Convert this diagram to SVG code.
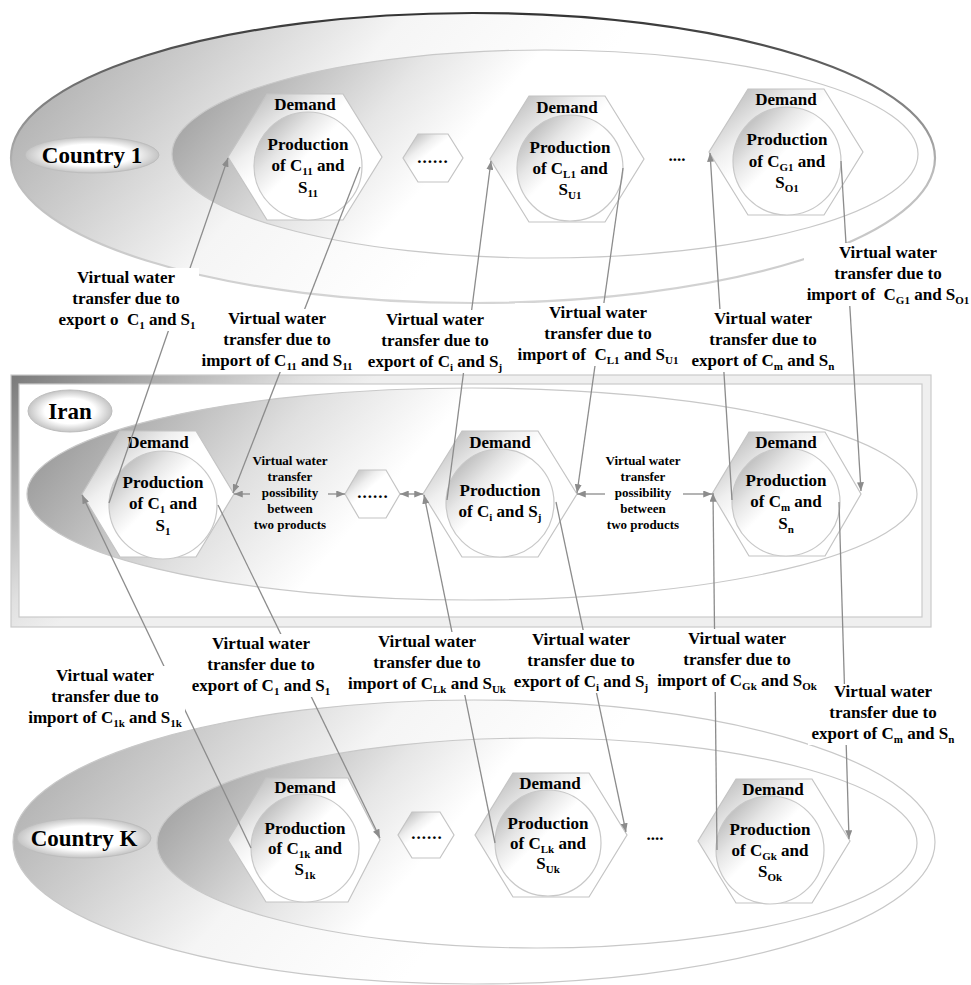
<svg xmlns="http://www.w3.org/2000/svg" width="971" height="985" viewBox="0 0 971 985">
<style>
.t{font-family:'Liberation Serif','Times New Roman',serif;font-weight:bold;font-size:17px;text-anchor:middle;fill:#000}
.s{font-size:11px}
.sm{font-size:13px}
.big{font-size:23px}
.dots{letter-spacing:1px}
.conn{stroke:#8c8c8c;stroke-width:1.3;fill:none}
.arr{marker-end:url(#ah)}
.both{marker-start:url(#ah);marker-end:url(#ah)}
.hex{fill:url(#gHex);stroke:#c4c4c4;stroke-width:1.2}
.circ{fill:url(#gCirc);stroke:#c8c8c8;stroke-width:1.2}
.lbg{fill:#fff}
.lab{fill:url(#gLab);stroke:#bdbdbd;stroke-width:1}
</style>
<defs>
<marker id="ah" viewBox="0 0 10 8" refX="10" refY="4" markerWidth="9" markerHeight="7" markerUnits="userSpaceOnUse" orient="auto-start-reverse"><path d="M0,0 L10,4 L0,8 Z" fill="#8c8c8c"/></marker>
<linearGradient id="gHex" x1="0" y1="0" x2="1" y2="1"><stop offset="0" stop-color="#a8a8a8"/><stop offset="0.3" stop-color="#efefef"/><stop offset="0.42" stop-color="#fff"/><stop offset="1" stop-color="#fff"/></linearGradient>
<linearGradient id="gCirc" x1="0" y1="0" x2="1" y2="1"><stop offset="0" stop-color="#9e9e9e"/><stop offset="0.3" stop-color="#e6e6e6"/><stop offset="0.45" stop-color="#fff"/><stop offset="1" stop-color="#fff"/></linearGradient>
<radialGradient id="gLab" cx="0.5" cy="0.5" r="0.5"><stop offset="0" stop-color="#fff"/><stop offset="0.6" stop-color="#fff"/><stop offset="1" stop-color="#c4c4c4"/></radialGradient>
<linearGradient id="gOut1" gradientUnits="userSpaceOnUse" x1="12" y1="60" x2="352" y2="354"><stop offset="0" stop-color="#a8a8a8"/><stop offset="0.3" stop-color="#cdcdcd"/><stop offset="0.6" stop-color="#f5f5f5"/><stop offset="1" stop-color="#fff"/></linearGradient>
<linearGradient id="gOut1s" gradientUnits="userSpaceOnUse" x1="0" y1="13" x2="0" y2="303"><stop offset="0" stop-color="#333"/><stop offset="0.35" stop-color="#8a8a8a"/><stop offset="0.55" stop-color="#bbb"/><stop offset="1" stop-color="#d5d5d5"/></linearGradient>
<linearGradient id="gIn1" gradientUnits="userSpaceOnUse" x1="172" y1="100" x2="421" y2="316"><stop offset="0" stop-color="#9c9c9c"/><stop offset="0.5" stop-color="#e6e6e6"/><stop offset="0.75" stop-color="#fff"/><stop offset="1" stop-color="#fff"/></linearGradient>
<linearGradient id="gIran" gradientUnits="userSpaceOnUse" x1="28" y1="440" x2="315" y2="688"><stop offset="0" stop-color="#959595"/><stop offset="0.5" stop-color="#e0e0e0"/><stop offset="0.8" stop-color="#fff"/><stop offset="1" stop-color="#fff"/></linearGradient>
<linearGradient id="gFrame" gradientUnits="userSpaceOnUse" x1="11" y1="375" x2="149" y2="553"><stop offset="0" stop-color="#7a7a7a"/><stop offset="0.8" stop-color="#e0e0e0"/><stop offset="1" stop-color="#efefef"/></linearGradient>
<linearGradient id="gOutK" gradientUnits="userSpaceOnUse" x1="13" y1="745" x2="353" y2="1039"><stop offset="0" stop-color="#a8a8a8"/><stop offset="0.3" stop-color="#cdcdcd"/><stop offset="0.6" stop-color="#f5f5f5"/><stop offset="1" stop-color="#fff"/></linearGradient>
<linearGradient id="gInK" gradientUnits="userSpaceOnUse" x1="157" y1="790" x2="406" y2="1006"><stop offset="0" stop-color="#9c9c9c"/><stop offset="0.5" stop-color="#e6e6e6"/><stop offset="0.75" stop-color="#fff"/><stop offset="1" stop-color="#fff"/></linearGradient>
</defs>
<rect width="971" height="985" fill="#fff"/>

<!-- Country 1 region -->
<g id="country1">
<ellipse cx="473" cy="158" rx="462" ry="145" fill="url(#gOut1)" stroke="url(#gOut1s)" stroke-width="2.2"/>
<ellipse cx="545" cy="154" rx="373" ry="104" fill="url(#gIn1)" stroke="#c8c8c8" stroke-width="1.2"/>
<ellipse class="lab" cx="92" cy="155" rx="67" ry="18"/>
<text class="t big" x="92" y="163">Country 1</text>
</g>

<!-- Iran region -->
<g id="iran">
<path d="M11,375 H931 V627 H11 Z M19,384 V617 H922 V384 Z" fill="url(#gFrame)" fill-rule="evenodd"/>
<rect x="11" y="375" width="920" height="252" fill="none" stroke="#cacaca" stroke-width="1.2"/>
<rect x="19" y="384" width="903" height="233" fill="#fff" stroke="#cacaca" stroke-width="1.2"/>
<ellipse cx="472" cy="494" rx="445" ry="106" fill="url(#gIran)" stroke="#c8c8c8" stroke-width="1.2"/>
<ellipse class="lab" cx="70" cy="411" rx="42" ry="21"/>
<text class="t big" x="70" y="419">Iran</text>
</g>

<!-- Country K region -->
<g id="countryK">
<ellipse cx="474" cy="842" rx="461" ry="142" fill="url(#gOutK)" stroke="#c8c8c8" stroke-width="1.2"/>
<ellipse cx="537" cy="843" rx="380" ry="105" fill="url(#gInK)" stroke="#c8c8c8" stroke-width="1.2"/>
<ellipse class="lab" cx="84" cy="838" rx="67" ry="20"/>
<text class="t big" x="84" y="846">Country K</text>
</g>

<!-- Country 1 nodes -->
<g id="n-c1-1">
<polygon class="hex" points="267,94 343,94 382,157 343,220 267,220 228,157"/>
<circle class="circ" cx="308" cy="166" r="54"/>
<text class="t" x="305" y="110">Demand</text>
<text class="t" x="308" y="150">Production</text>
<text class="t" x="308" y="171">of C<tspan class="s" dy="4">11</tspan><tspan dy="-4"> and</tspan></text>
<text class="t" x="308" y="193">S<tspan class="s" dy="4">11</tspan></text>
</g>
<g id="n-c1-dots">
<polygon class="hex" points="418,134 448,134 463,158 448,182 418,182 403,158"/>
<text class="t dots" x="433" y="163">......</text>
</g>
<g id="n-c1-2">
<polygon class="hex" points="529,96 605,96 644,159 605,222 529,222 490,159"/>
<circle class="circ" cx="570" cy="168" r="53"/>
<text class="t" x="567" y="113">Demand</text>
<text class="t" x="570" y="153">Production</text>
<text class="t" x="570" y="174">of C<tspan class="s" dy="4">L1</tspan><tspan dy="-4"> and</tspan></text>
<text class="t" x="570" y="195">S<tspan class="s" dy="4">U1</tspan></text>
</g>
<g id="n-c1-dots2">
<text class="t" x="677" y="161">....</text>
</g>
<g id="n-c1-3">
<polygon class="hex" points="748,89 824,89 863,152 824,215 748,215 709,152"/>
<circle class="circ" cx="787" cy="161" r="54"/>
<text class="t" x="786" y="105">Demand</text>
<text class="t" x="787" y="145">Production</text>
<text class="t" x="787" y="167">of C<tspan class="s" dy="4">G1</tspan><tspan dy="-4"> and</tspan></text>
<text class="t" x="787" y="188">S<tspan class="s" dy="4">O1</tspan></text>
</g>

<!-- Iran nodes -->
<g id="n-ir-1">
<polygon class="hex" points="120,431 196,431 234,494 196,557 120,557 82,494"/>
<circle class="circ" cx="163" cy="505" r="54"/>
<text class="t" x="158" y="448">Demand</text>
<text class="t" x="163" y="488">Production</text>
<text class="t" x="163" y="509">of C<tspan class="s" dy="4">1</tspan><tspan dy="-4"> and</tspan></text>
<text class="t" x="163" y="531">S<tspan class="s" dy="4">1</tspan></text>
</g>
<g id="n-ir-dots">
<polygon class="hex" points="359,470 386,470 400,494 386,518 359,518 345,494"/>
<text class="t dots" x="373" y="498">......</text>
</g>
<g id="n-ir-2">
<polygon class="hex" points="462,431 538,431 577,494 538,557 462,557 423,494"/>
<circle class="circ" cx="500" cy="503" r="54"/>
<text class="t" x="500" y="448">Demand</text>
<text class="t" x="500" y="496">Production</text>
<text class="t" x="500" y="517">of C<tspan class="s" dy="4">i</tspan><tspan dy="-4"> and S</tspan><tspan class="s" dy="4">j</tspan></text>
</g>
<g id="n-ir-3">
<polygon class="hex" points="749,432 825,432 861,494 825,556 749,556 712,494"/>
<circle class="circ" cx="786" cy="502" r="54"/>
<text class="t" x="786" y="448">Demand</text>
<text class="t" x="786" y="486">Production</text>
<text class="t" x="786" y="507">of C<tspan class="s" dy="4">m</tspan><tspan dy="-4"> and</tspan></text>
<text class="t" x="786" y="529">S<tspan class="s" dy="4">n</tspan></text>
</g>

<!-- Country K nodes -->
<g id="n-ck-1">
<polygon class="hex" points="266,778 348,778 380,840 348,902 266,902 228,840"/>
<circle class="circ" cx="305" cy="848" r="54"/>
<text class="t" x="305" y="793">Demand</text>
<text class="t" x="305" y="834">Production</text>
<text class="t" x="305" y="854">of C<tspan class="s" dy="4">1k</tspan><tspan dy="-4"> and</tspan></text>
<text class="t" x="305" y="875">S<tspan class="s" dy="4">1k</tspan></text>
</g>
<g id="n-ck-dots">
<polygon class="hex" points="412,812 440,812 454,835 440,858 412,858 398,835"/>
<text class="t dots" x="427" y="839">......</text>
</g>
<g id="n-ck-2">
<polygon class="hex" points="513,773 589,773 627,835 589,897 513,897 475,835"/>
<circle class="circ" cx="548" cy="843" r="53"/>
<text class="t" x="550" y="789">Demand</text>
<text class="t" x="548" y="829">Production</text>
<text class="t" x="548" y="849">of C<tspan class="s" dy="4">Lk</tspan><tspan dy="-4"> and</tspan></text>
<text class="t" x="548" y="869">S<tspan class="s" dy="4">Uk</tspan></text>
</g>
<g id="n-ck-dots2">
<text class="t" x="655" y="840">....</text>
</g>
<g id="n-ck-3">
<polygon class="hex" points="736,779 812,779 850,841 812,903 736,903 698,841"/>
<circle class="circ" cx="770" cy="850" r="54"/>
<text class="t" x="773" y="795">Demand</text>
<text class="t" x="770" y="835">Production</text>
<text class="t" x="770" y="856">of C<tspan class="s" dy="4">Gk</tspan><tspan dy="-4"> and</tspan></text>
<text class="t" x="770" y="877">S<tspan class="s" dy="4">Ok</tspan></text>
</g>

<!-- Connectors -->
<g id="connectors">
<path class="conn arr" d="M109,503 L228,158"/>
<path class="conn arr" d="M360,167 L233,493"/>
<path class="conn arr" d="M447,500 L491,161"/>
<path class="conn arr" d="M623,168 L577,493"/>
<path class="conn arr" d="M732,500 L710,153"/>
<path class="conn arr" d="M841,161 L861,491"/>
<path class="conn arr" d="M251,848 L82,495"/>
<path class="conn arr" d="M218,505 L380,838"/>
<path class="conn arr" d="M495,843 L424,495"/>
<path class="conn arr" d="M556,502 L626,832"/>
<path class="conn arr" d="M717,850 L713,493"/>
<path class="conn arr" d="M839,502 L849,839"/>
<path class="conn arr" d="M250,494 L234,494"/>
<path class="conn arr" d="M328,494 L345,494"/>
<path class="conn both" d="M400,494 L423,494"/>
<path class="conn arr" d="M605,494 L577,494"/>
<path class="conn arr" d="M683,494 L712,494"/>
</g>

<!-- Connector labels -->
<g id="labels">
<g id="l1"><rect class="lbg" x="55" y="268" width="144" height="63"/>
<text class="t" x="126" y="283">Virtual water</text>
<text class="t" x="126" y="304">transfer due to</text>
<text class="t" x="127" y="325">export o&#160; C<tspan class="s" dy="4">1</tspan><tspan dy="-4"> and S</tspan><tspan class="s" dy="4">1</tspan></text></g>
<g id="l2"><rect class="lbg" x="198" y="309" width="158" height="63"/>
<text class="t" x="277" y="324">Virtual water</text>
<text class="t" x="277" y="345">transfer due to</text>
<text class="t" x="277" y="366">import of C<tspan class="s" dy="4">11</tspan><tspan dy="-4"> and S</tspan><tspan class="s" dy="4">11</tspan></text></g>
<g id="l3"><rect class="lbg" x="365" y="310" width="140" height="63"/>
<text class="t" x="435" y="325">Virtual water</text>
<text class="t" x="435" y="346">transfer due to</text>
<text class="t" x="435" y="367">export of C<tspan class="s" dy="4">i</tspan><tspan dy="-4"> and S</tspan><tspan class="s" dy="4">j</tspan></text></g>
<g id="l4"><rect class="lbg" x="515" y="303" width="166" height="63"/>
<text class="t" x="598" y="318">Virtual water</text>
<text class="t" x="598" y="339">transfer due to</text>
<text class="t" x="598" y="360">import of&#160; C<tspan class="s" dy="4">L1</tspan><tspan dy="-4"> and S</tspan><tspan class="s" dy="4">U1</tspan></text></g>
<g id="l5"><rect class="lbg" x="689" y="309" width="148" height="63"/>
<text class="t" x="763" y="324">Virtual water</text>
<text class="t" x="763" y="345">transfer due to</text>
<text class="t" x="763" y="366">export of C<tspan class="s" dy="4">m</tspan><tspan dy="-4"> and S</tspan><tspan class="s" dy="4">n</tspan></text></g>
<g id="l6"><rect class="lbg" x="804" y="243" width="168" height="63"/>
<text class="t" x="888" y="258">Virtual water</text>
<text class="t" x="888" y="279">transfer due to</text>
<text class="t" x="888" y="300">import of&#160; C<tspan class="s" dy="4">G1</tspan><tspan dy="-4"> and S</tspan><tspan class="s" dy="4">O1</tspan></text></g>
<g id="l7"><rect class="lbg" x="25" y="666" width="160" height="63"/>
<text class="t" x="105" y="681">Virtual water</text>
<text class="t" x="105" y="702">transfer due to</text>
<text class="t" x="105" y="723">import of C<tspan class="s" dy="4">1k</tspan><tspan dy="-4"> and S</tspan><tspan class="s" dy="4">1k</tspan></text></g>
<g id="l8"><rect class="lbg" x="189" y="634" width="144" height="63"/>
<text class="t" x="261" y="649">Virtual water</text>
<text class="t" x="261" y="670">transfer due to</text>
<text class="t" x="261" y="691">export of C<tspan class="s" dy="4">1</tspan><tspan dy="-4"> and S</tspan><tspan class="s" dy="4">1</tspan></text></g>
<g id="l9"><rect class="lbg" x="345" y="632" width="165" height="63"/>
<text class="t" x="427" y="647">Virtual water</text>
<text class="t" x="427" y="668">transfer due to</text>
<text class="t" x="427" y="689">import of C<tspan class="s" dy="4">Lk</tspan><tspan dy="-4"> and S</tspan><tspan class="s" dy="4">Uk</tspan></text></g>
<g id="l10"><rect class="lbg" x="511" y="630" width="139" height="63"/>
<text class="t" x="581" y="645">Virtual water</text>
<text class="t" x="581" y="666">transfer due to</text>
<text class="t" x="581" y="687">export of C<tspan class="s" dy="4">i</tspan><tspan dy="-4"> and S</tspan><tspan class="s" dy="4">j</tspan></text></g>
<g id="l12"><rect class="lbg" x="808" y="684" width="149" height="61"/>
<text class="t" x="883" y="697">Virtual water</text>
<text class="t" x="883" y="718">transfer due to</text>
<text class="t" x="883" y="739">export of C<tspan class="s" dy="4">m</tspan><tspan dy="-4"> and S</tspan><tspan class="s" dy="4">n</tspan></text></g>
<g id="l11"><rect class="lbg" x="654" y="629" width="168" height="63"/>
<text class="t" x="737" y="644">Virtual water</text>
<text class="t" x="737" y="665">transfer due to</text>
<text class="t" x="737" y="686">import of C<tspan class="s" dy="4">Gk</tspan><tspan dy="-4"> and S</tspan><tspan class="s" dy="4">Ok</tspan></text></g>
<g id="l13">
<text class="t sm" x="290" y="465">Virtual water</text>
<text class="t sm" x="290" y="481">transfer</text>
<text class="t sm" x="290" y="497">possibility</text>
<text class="t sm" x="290" y="513">between</text>
<text class="t sm" x="290" y="529">two products</text></g>
<g id="l14">
<text class="t sm" x="643" y="465">Virtual water</text>
<text class="t sm" x="643" y="481">transfer</text>
<text class="t sm" x="643" y="497">possibility</text>
<text class="t sm" x="643" y="513">between</text>
<text class="t sm" x="643" y="529">two products</text></g>
</g>
</svg>
